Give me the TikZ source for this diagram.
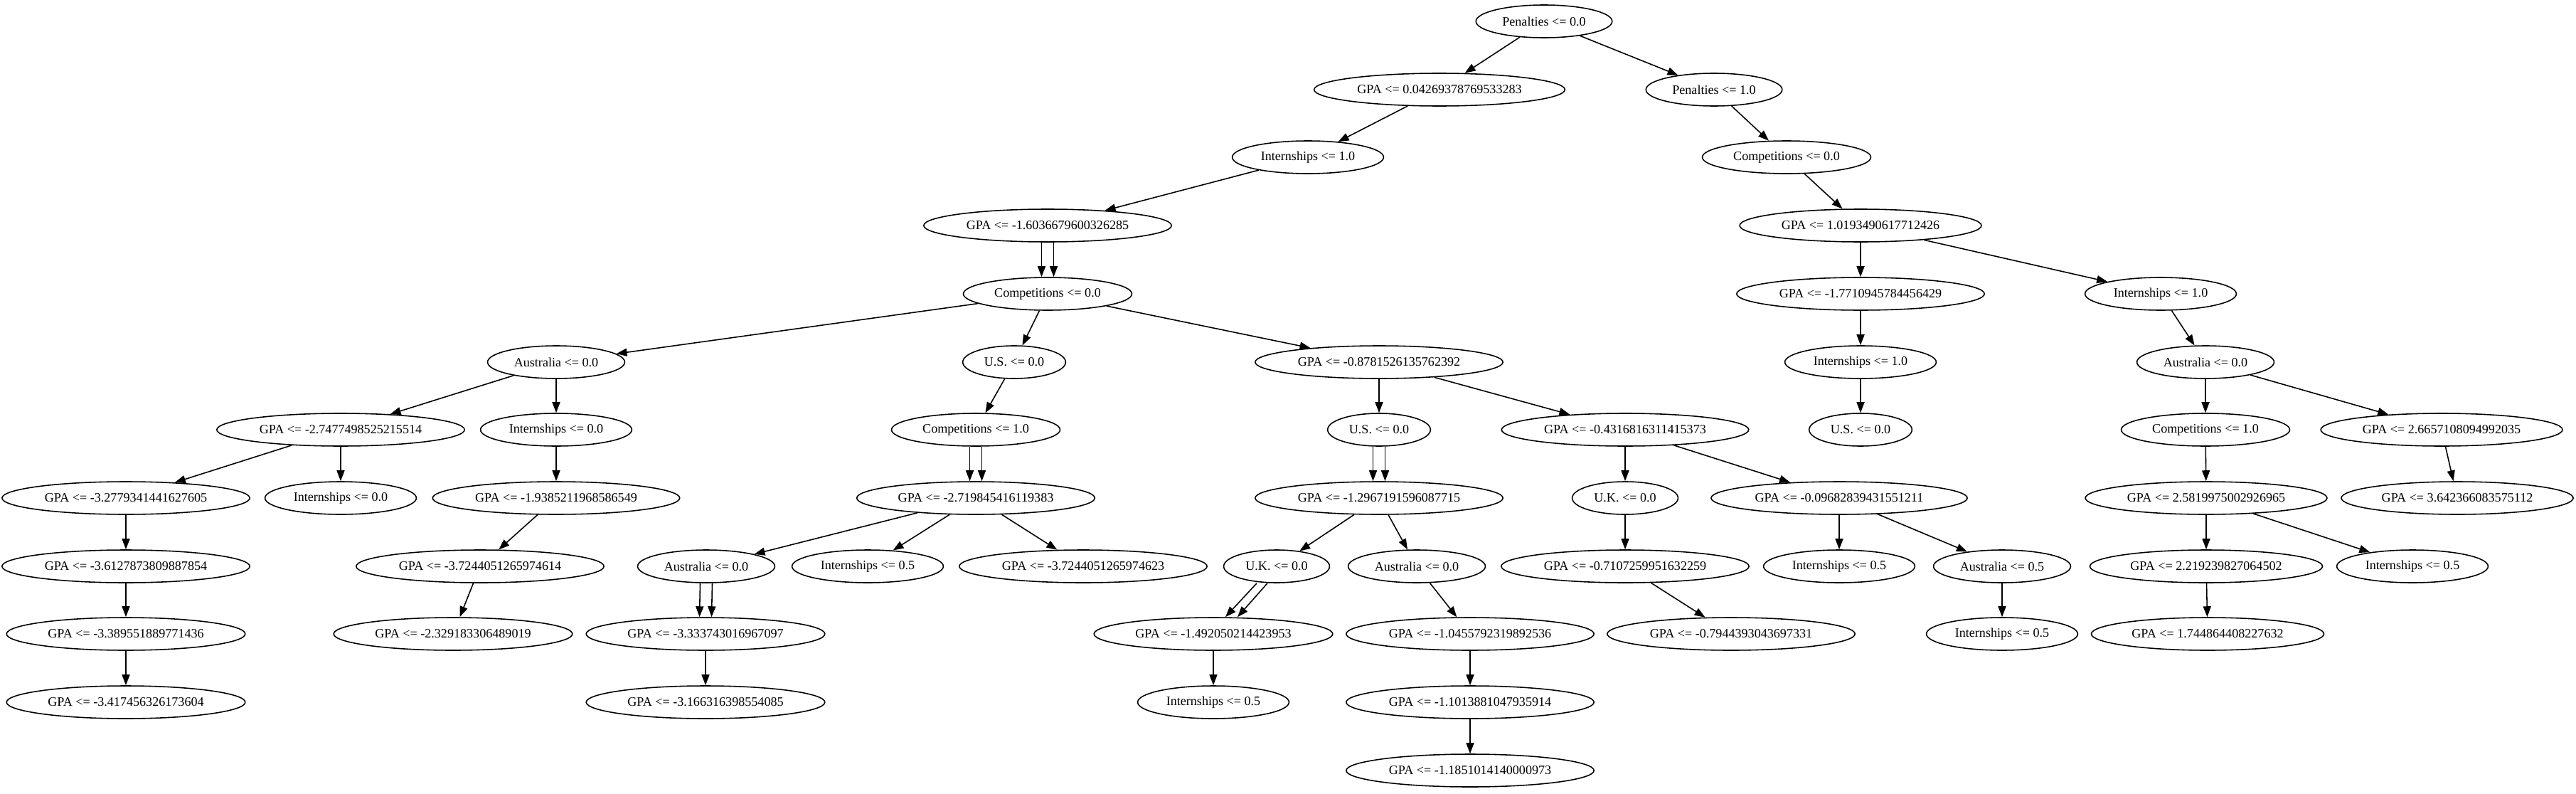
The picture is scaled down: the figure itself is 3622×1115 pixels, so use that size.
\documentclass[tikz,border=0pt]{standalone}
\usepackage{fontspec}
\setmainfont{Liberation Serif}
\usepackage{tikz}
\usetikzlibrary{arrows.meta,shapes.geometric}
\tikzset{>={Triangle[length=3mm,width=2.2mm]},font=\fontsize{10.3}{12}\selectfont}
\tikzset{cond/.style={ellipse,draw,line width=0.9pt,inner xsep=0.18cm,inner ysep=0.05cm,minimum height=0.92cm}}

\begin{document}
\begin{tikzpicture}[x=0.02cm,y=-0.02cm,line width=0.9pt]
\useasboundingbox (0,0) rectangle (3622,1115);
% rank 0 - 2
\node[cond] (A) at (2171,30) {Penalties <= 0.0};
\node[cond] (B) at (2024,126) {GPA <= 0.04269378769533283};
\node[cond] (C) at (2410,126) {Penalties <= 1.0};
\node[cond] (D) at (1839,221) {Internships <= 1.0};
\node[cond] (E) at (2512,221) {Competitions <= 0.0};
% rank 3 - 5
\node[cond] (F) at (1473,317) {GPA <= -1.6036679600326285};
\node[cond] (G) at (2616,317) {GPA <= 1.0193490617712426};
\node[cond] (H) at (1473,413) {Competitions <= 0.0};
\node[cond] (I) at (2616,413) {GPA <= -1.7710945784456429};
\node[cond] (J) at (3038,413) {Internships <= 1.0};
\node[cond] (K) at (782,509) {Australia <= 0.0};
\node[cond] (L) at (1426,509) {U.S. <= 0.0};
\node[cond] (M) at (1939,509) {GPA <= -0.8781526135762392};
\node[cond] (N) at (2616,509) {Internships <= 1.0};
\node[cond] (O) at (3101,509) {Australia <= 0.0};
% rank 6
\node[cond] (P) at (479,604) {GPA <= -2.7477498525215514};
\node[cond] (Q) at (782,604) {Internships <= 0.0};
\node[cond] (R) at (1372,604) {Competitions <= 1.0};
\node[cond] (S) at (1939,604) {U.S. <= 0.0};
\node[cond] (T) at (2285,604) {GPA <= -0.4316816311415373};
\node[cond] (U) at (2616,604) {U.S. <= 0.0};
\node[cond] (V) at (3101,604) {Competitions <= 1.0};
\node[cond] (W) at (3433,604) {GPA <= 2.6657108094992035};
% rank 7
\node[cond] (X) at (177,700) {GPA <= -3.2779341441627605};
\node[cond] (Y) at (479,700) {Internships <= 0.0};
\node[cond] (Z) at (782,700) {GPA <= -1.9385211968586549};
\node[cond] (AA) at (1372,700) {GPA <= -2.719845416119383};
\node[cond] (AB) at (1939,700) {GPA <= -1.2967191596087715};
\node[cond] (AC) at (2285,700) {U.K. <= 0.0};
\node[cond] (AD) at (2586,700) {GPA <= -0.09682839431551211};
\node[cond] (AE) at (3102,700) {GPA <= 2.5819975002926965};
\node[cond] (AF) at (3455,700) {GPA <= 3.642366083575112};
% rank 8
\node[cond] (AG) at (177,796) {GPA <= -3.6127873809887854};
\node[cond] (AH) at (675,796) {GPA <= -3.7244051265974614};
\node[cond] (AI) at (993,796) {Australia <= 0.0};
\node[cond] (AJ) at (1220,796) {Internships <= 0.5};
\node[cond] (AK) at (1523,796) {GPA <= -3.7244051265974623};
\node[cond] (AL) at (1795,796) {U.K. <= 0.0};
\node[cond] (AM) at (1992,796) {Australia <= 0.0};
\node[cond] (AN) at (2285,796) {GPA <= -0.7107259951632259};
\node[cond] (AO) at (2586,796) {Internships <= 0.5};
\node[cond] (AP) at (2815,796) {Australia <= 0.5};
\node[cond] (AQ) at (3102,796) {GPA <= 2.219239827064502};
\node[cond] (AR) at (3392,796) {Internships <= 0.5};
% rank 9 - 11
\node[cond] (AS) at (177,891) {GPA <= -3.389551889771436};
\node[cond] (AT) at (637,891) {GPA <= -2.329183306489019};
\node[cond] (AU) at (992,891) {GPA <= -3.333743016967097};
\node[cond] (AV) at (1706,891) {GPA <= -1.492050214423953};
\node[cond] (AW) at (2067,891) {GPA <= -1.0455792319892536};
\node[cond] (AX) at (2434,891) {GPA <= -0.7944393043697331};
\node[cond] (AY) at (2815,891) {Internships <= 0.5};
\node[cond] (AZ) at (3104,891) {GPA <= 1.744864408227632};
\node[cond] (BA) at (177,987) {GPA <= -3.417456326173604};
\node[cond] (BB) at (992,987) {GPA <= -3.166316398554085};
\node[cond] (BC) at (1706,987) {Internships <= 0.5};
\node[cond] (BD) at (2067,987) {GPA <= -1.1013881047935914};
\node[cond] (BE) at (2067,1083) {GPA <= -1.1851014140000973};
% edges
\path[->] (A) edge (B);
\path[->] (A) edge (C);
\path[->] (B) edge (D);
\path[->] (D) edge (F);
\path[->] ([xshift=-0.17cm]F.south) edge ([xshift=-0.17cm]H.north);
\path[->] ([xshift=0.17cm]F.south) edge ([xshift=0.17cm]H.north);
\path[->] (H) edge (K);
\path[->] (H) edge (L);
\path[->] (H) edge (M);
\path[->] (K) edge (P);
\path[->] (K) edge (Q);
\path[->] (P) edge (X);
\path[->] (P) edge (Y);
\path[->] (X) edge (AG);
\path[->] (AG) edge (AS);
\path[->] (AS) edge (BA);
\path[->] (Q) edge (Z);
\path[->] (Z) edge (AH);
\path[->] (AH) edge (AT);
\path[->] (L) edge (R);
\path[->] ([xshift=-0.17cm]R.south) edge ([xshift=-0.17cm]AA.north);
\path[->] ([xshift=0.17cm]R.south) edge ([xshift=0.17cm]AA.north);
\path[->] (AA) edge (AI);
\path[->] (AA) edge (AJ);
\path[->] (AA) edge (AK);
\path[->] ([xshift=-0.17cm]AI.south) edge ([xshift=-0.17cm]AU.north);
\path[->] ([xshift=0.17cm]AI.south) edge ([xshift=0.17cm]AU.north);
\path[->] (AU) edge (BB);
\path[->] (M) edge (S);
\path[->] (M) edge (T);
\path[->] ([xshift=-0.17cm]S.south) edge ([xshift=-0.17cm]AB.north);
\path[->] ([xshift=0.17cm]S.south) edge ([xshift=0.17cm]AB.north);
\path[->] (AB) edge (AL);
\path[->] (AB) edge (AM);
\path[->] ([xshift=-0.56cm]AL.south) edge ([xshift=0.34cm]AV.north);
\path[->] ([xshift=-0.26cm]AL.south) edge ([xshift=0.68cm]AV.north);
\path[->] (AV) edge (BC);
\path[->] (AM) edge (AW);
\path[->] (AW) edge (BD);
\path[->] (BD) edge (BE);
\path[->] (T) edge (AC);
\path[->] (T) edge (AD);
\path[->] (AC) edge (AN);
\path[->] (AN) edge (AX);
\path[->] (AD) edge (AO);
\path[->] (AD) edge (AP);
\path[->] (AP) edge (AY);
\path[->] (C) edge (E);
\path[->] (E) edge (G);
\path[->] (G) edge (I);
\path[->] (G) edge (J);
\path[->] (I) edge (N);
\path[->] (N) edge (U);
\path[->] (J) edge (O);
\path[->] (O) edge (V);
\path[->] (O) edge (W);
\path[->] (V) edge (AE);
\path[->] (AE) edge (AQ);
\path[->] (AE) edge (AR);
\path[->] (AQ) edge (AZ);
\path[->] (W) edge (AF);
\end{tikzpicture}
\end{document}
